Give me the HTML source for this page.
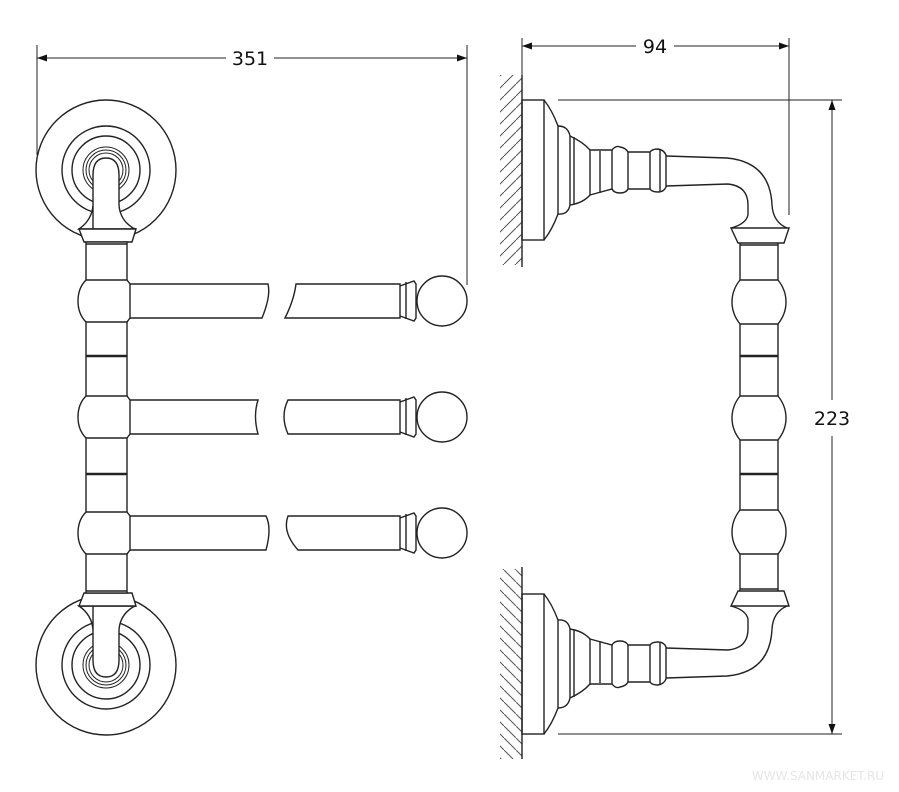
<!DOCTYPE html>
<html><head><meta charset="utf-8"><style>
html,body{margin:0;padding:0;background:#fff;}
svg{display:block;}
text{font-family:"DejaVu Sans","Liberation Sans",sans-serif;font-size:19px;fill:#111;}
</style></head><body>
<svg width="899" height="792" viewBox="0 0 899 792" xmlns="http://www.w3.org/2000/svg">
<defs>
<marker id="ar" viewBox="0 0 10 10" refX="10" refY="5" markerWidth="10" markerHeight="10" orient="auto-start-reverse" markerUnits="userSpaceOnUse"><path d="M0,1.5 L10,5 L0,8.5 z" fill="#111"/></marker>
<pattern id="hatch" width="12" height="12" patternUnits="userSpaceOnUse"><path d="M-2,14 L14,-2" stroke="#555" stroke-width="1"/></pattern>
</defs>
<g fill="none" stroke="#222" stroke-width="1.4">
<!-- dimension 351 -->
<line x1="37" y1="45" x2="37" y2="155" stroke-width="1"/>
<line x1="467" y1="45" x2="467" y2="285" stroke-width="1"/>
<line x1="37" y1="58" x2="226" y2="58" stroke-width="1" marker-start="url(#ar)"/>
<line x1="274" y1="58" x2="467" y2="58" stroke-width="1" marker-end="url(#ar)"/>
<!-- rosettes -->
<g id="ros">
<circle cx="106" cy="170" r="70"/>
<circle cx="106" cy="170" r="44"/>
<circle cx="106" cy="170" r="34"/>
<circle cx="106" cy="170" r="23" stroke-width="1"/>
<circle cx="106" cy="170" r="20" stroke-width="1"/>
<circle cx="106" cy="170" r="17" stroke-width="1"/>
<path d="M93,240 L93,175 Q93,158 106,158 Q119,158 119,175 L119,205 Q120,220 133,228 L136,229 L79,229 Q92,220 93,205" fill="#fff"/>
<path d="M79,229 L136,229 L132,242 L84,242 Z" fill="#fff"/>
</g>
<g transform="translate(0,835) scale(1,-1)">
<circle cx="106" cy="170" r="70"/>
<circle cx="106" cy="170" r="44"/>
<circle cx="106" cy="170" r="34"/>
<circle cx="106" cy="170" r="23" stroke-width="1"/>
<circle cx="106" cy="170" r="20" stroke-width="1"/>
<circle cx="106" cy="170" r="17" stroke-width="1"/>
<path d="M93,240 L93,175 Q93,158 106,158 Q119,158 119,175 L119,205 Q120,220 133,228 L136,229 L79,229 Q92,220 93,205" fill="#fff"/>
<path d="M79,229 L136,229 L132,242 L84,242 Z" fill="#fff"/>
</g>
<!-- column -->
<rect x="86" y="242" width="41" height="351" fill="#fff"/>
<line x1="86" y1="244" x2="127" y2="244"/>
<line x1="86" y1="591" x2="127" y2="591"/>
<line x1="86" y1="356" x2="127" y2="356" stroke-width="2.5"/>
<line x1="86" y1="474" x2="127" y2="474" stroke-width="2.5"/>
<!-- bulges + bars -->
<g id="b1">
<path d="M86,280 L127,280 L130,284 L130,318 L127,322 L86,322 Q78,314 78,301 Q78,288 86,280 Z" fill="#fff"/>
<path d="M130,284 L268,284 Q271,296 262,318 L130,318"/>
<path d="M296,284 L400,284 L400,318 L285,318 Q294,300 296,284 Z"/>
<path d="M400,286 L414,281 L416,284 L416,318 L414,321 L400,316"/>
<line x1="406" y1="282" x2="406" y2="319"/>
<circle cx="442" cy="301" r="25"/>
</g>
<g transform="translate(0,116)">
<path d="M86,280 L127,280 L130,284 L130,318 L127,322 L86,322 Q78,314 78,301 Q78,288 86,280 Z" fill="#fff"/>
<path d="M130,284 L258,284 Q253,300 258,318 L130,318"/>
<path d="M288,284 L400,284 L400,318 L288,318 Q280,300 288,284 Z"/>
<path d="M400,286 L414,281 L416,284 L416,318 L414,321 L400,316"/>
<line x1="406" y1="282" x2="406" y2="319"/>
<circle cx="442" cy="301" r="25"/>
</g>
<g transform="translate(0,232)">
<path d="M86,280 L127,280 L130,284 L130,318 L127,322 L86,322 Q78,314 78,301 Q78,288 86,280 Z" fill="#fff"/>
<path d="M130,284 L266,284 Q272,296 266,318 L130,318"/>
<path d="M288,284 L400,284 L400,318 L298,318 Q282,300 288,284 Z"/>
<path d="M400,286 L414,281 L416,284 L416,318 L414,321 L400,316"/>
<line x1="406" y1="282" x2="406" y2="319"/>
<circle cx="442" cy="301" r="25"/>
</g>

<!-- right view dims -->
<line x1="522" y1="38" x2="522" y2="100" stroke-width="1"/>
<line x1="789" y1="38" x2="789" y2="215" stroke-width="1"/>
<line x1="522" y1="46" x2="636" y2="46" stroke-width="1" marker-start="url(#ar)"/>
<line x1="674" y1="46" x2="789" y2="46" stroke-width="1" marker-end="url(#ar)"/>
<line x1="558" y1="100" x2="842" y2="100" stroke-width="1"/>
<line x1="558" y1="734" x2="842" y2="734" stroke-width="1"/>
<line x1="832" y1="100" x2="832" y2="400" stroke-width="1" marker-start="url(#ar)"/>
<line x1="832" y1="436" x2="832" y2="734" stroke-width="1" marker-end="url(#ar)"/>

<!-- right view top arm -->
<g id="arm">
<rect x="500" y="75" width="22" height="190" fill="url(#hatch)" stroke="none"/>
<line x1="522" y1="75" x2="522" y2="267"/>
<rect x="522" y="100" width="22" height="140"/>
<path d="M544,100 Q552,110 558,126 L558,214 Q552,230 544,240"/>
<path d="M558,126 Q568,126 570,136 L570,205 Q568,215 558,214"/>
<path d="M570,136 Q583,142 590,150 L590,195 Q583,203 570,205"/>
<line x1="574" y1="137" x2="574" y2="204"/>
<path d="M590,150 L612,150 Q616,145 620,147 Q626,148 628,152 L650,152 Q652,149 658,149 Q664,150 666,155 L666,187 Q664,192 658,192 Q652,192 650,189 L628,189 Q626,193 620,193 Q614,193 612,189 L590,195"/>
<line x1="600" y1="151" x2="600" y2="193"/>
<line x1="612" y1="150" x2="612" y2="190"/>
<line x1="628" y1="152" x2="628" y2="189"/>
<line x1="650" y1="152" x2="650" y2="189"/>
<line x1="660" y1="150" x2="660" y2="191"/>
<path d="M666,156 L727,158 Q770,162 772,205 Q773,222 787,228"/>
<path d="M666,186 L728,184 Q748,186 748,205 L748,215 Q746,224 731,228"/>
<path d="M731,228 L789,228 L784,243 L738,243 Z" fill="#fff"/>
<line x1="740" y1="245" x2="778" y2="245"/>
</g>
<g transform="translate(0,834) scale(1,-1)">
<rect x="500" y="75" width="22" height="190" fill="url(#hatch)" stroke="none"/>
<line x1="522" y1="75" x2="522" y2="267"/>
<rect x="522" y="100" width="22" height="140"/>
<path d="M544,100 Q552,110 558,126 L558,214 Q552,230 544,240"/>
<path d="M558,126 Q568,126 570,136 L570,205 Q568,215 558,214"/>
<path d="M570,136 Q583,142 590,150 L590,195 Q583,203 570,205"/>
<line x1="574" y1="137" x2="574" y2="204"/>
<path d="M590,150 L612,150 Q616,145 620,147 Q626,148 628,152 L650,152 Q652,149 658,149 Q664,150 666,155 L666,187 Q664,192 658,192 Q652,192 650,189 L628,189 Q626,193 620,193 Q614,193 612,189 L590,195"/>
<line x1="600" y1="151" x2="600" y2="193"/>
<line x1="612" y1="150" x2="612" y2="190"/>
<line x1="628" y1="152" x2="628" y2="189"/>
<line x1="650" y1="152" x2="650" y2="189"/>
<line x1="660" y1="150" x2="660" y2="191"/>
<path d="M666,156 L727,158 Q770,162 772,205 Q773,222 787,228"/>
<path d="M666,186 L728,184 Q748,186 748,205 L748,215 Q746,224 731,228"/>
<path d="M731,228 L789,228 L784,243 L738,243 Z" fill="#fff"/>
<line x1="740" y1="245" x2="778" y2="245"/>
</g>
<!-- right column -->
<line x1="740" y1="243" x2="740" y2="591"/>
<line x1="778" y1="243" x2="778" y2="591"/>
<line x1="740" y1="356" x2="778" y2="356" stroke-width="2.5"/>
<line x1="740" y1="474" x2="778" y2="474" stroke-width="2.5"/>
<g id="rb"><path d="M740,280 L778,280 Q786,290 786,302 Q786,314 778,324 L740,324 Q732,314 732,302 Q732,290 740,280 Z" fill="#fff"/></g>
<path d="M740,396 L778,396 Q786,406 786,418 Q786,430 778,440 L740,440 Q732,430 732,418 Q732,406 740,396 Z" fill="#fff"/>
<path d="M740,510 L778,510 Q786,520 786,532 Q786,544 778,554 L740,554 Q732,544 732,532 Q732,520 740,510 Z" fill="#fff"/>
</g>
<text x="250" y="65" text-anchor="middle">351</text>
<text x="655" y="53" text-anchor="middle">94</text>
<text x="832" y="425" text-anchor="middle">223</text>
<text x="818" y="780" text-anchor="middle" style="font-size:12px;fill:#e6e6e6">WWW.SANMARKET.RU</text>
</svg>
</body></html>
